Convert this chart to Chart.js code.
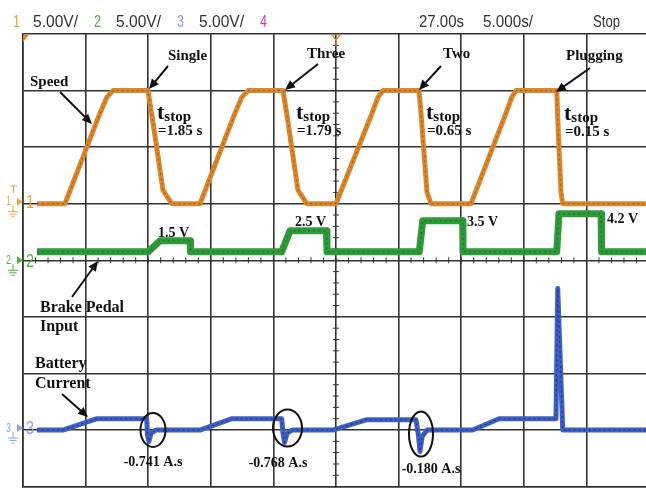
<!DOCTYPE html>
<html>
<head>
<meta charset="utf-8">
<script src="https://cdn.jsdelivr.net/npm/chart.js@4.4.1/dist/chart.umd.min.js"></script>
<style>
  html, body { margin: 0; padding: 0; background: #fff; overflow: hidden; }
  #wrap { width: 646px; height: 488px; }
</style>
</head>
<body>
<div id="wrap"><canvas id="scope" width="646" height="488"></canvas></div>
<script>
// channel 1: motor speed (V), four accelerate / brake cycles
const speedTime  = [1.12, 3.35, 6.15, 6.69, 7.19, 9.98, 10.38, 11.18, 11.88, 14.14, 16.93, 17.47, 17.97, 20.77, 21.17, 21.96, 22.66, 25.0, 27.88, 28.35, 28.75, 31.63, 31.79, 32.27, 32.59, 35.78, 38.58, 39.03, 39.38, 42.63, 42.73, 42.97, 43.11, 49.76];
const speedVolts = [0, 0, 8.0, 9.4, 10, 10, 7.2, 1.2, 0, 0, 8.0, 9.4, 10, 10, 7.2, 1.2, 0, 0, 8.0, 9.4, 10, 10, 8.0, 1.0, 0, 0, 8.0, 9.4, 10, 10, 7.0, 1.0, 0, 0];

// channel 2: brake pedal input (V)
const pedalTime  = [1.12, 9.98, 10.94, 13.34, 13.38, 20.66, 21.33, 24.24, 24.28, 31.65, 31.93, 35.12, 35.14, 42.63, 42.81, 46.17, 46.21, 49.76];
const pedalVolts = [0.4, 0.4, 1.5, 1.5, 0.4, 0.4, 2.5, 2.5, 0.4, 0.4, 3.5, 3.5, 0.4, 0.4, 4.2, 4.2, 0.4, 0.4];

// channel 3: battery current probe (V)
const currentTime  = [1.12, 3.19, 5.91, 9.88, 9.94, 10.06, 10.22, 10.62, 14.14, 16.69, 20.66, 20.77, 20.89, 21.09, 21.49, 24.74, 27.40, 31.39, 31.59, 31.71, 31.87, 32.27, 35.92, 38.02, 42.57, 42.71, 43.11, 49.76];
const currentVolts = [0, 0, 1.0, 1.0, -0.4, -1.0, -0.3, 0, 0, 1.0, 1.0, -0.3, -1.1, -0.3, 0, 0, 0.9, 0.9, -0.5, -1.9, -0.6, 0, 0, 1.0, 1.0, 12.5, 0, 0];

// scope status line
const channelIds    = ['1', '2', '3', '4'];
const channelScales = ['5.00V/', '5.00V/', '5.00V/', ''];
const timebaseText  = ['27.00s', '5.000s/', 'Stop'];

const ORANGE = '#d9862c', GREEN = '#2f9a3a', BLUE = '#3e5fc3';
const GRID = '#333';
const SCOPE_FONT = '"Liberation Sans Narrow", "Liberation Sans", sans-serif';
const pts = (ts, vs) => ts.map((t, i) => ({ x: t, y: vs[i] }));

function arrow(ctx, x1, y1, x2, y2) {
  const a = Math.atan2(y2 - y1, x2 - x1), L = 10, W = 4.5;
  ctx.beginPath();
  ctx.moveTo(x1, y1);
  ctx.lineTo(x2 - Math.cos(a) * L * 0.8, y2 - Math.sin(a) * L * 0.8);
  ctx.stroke();
  ctx.beginPath();
  ctx.moveTo(x2, y2);
  ctx.lineTo(x2 - Math.cos(a) * L + Math.sin(a) * W, y2 - Math.sin(a) * L - Math.cos(a) * W);
  ctx.lineTo(x2 - Math.cos(a) * L - Math.sin(a) * W, y2 - Math.sin(a) * L + Math.cos(a) * W);
  ctx.closePath();
  ctx.fill();
}

function ground(ctx, x, y, color) {
  ctx.strokeStyle = color;
  ctx.lineWidth = 1;
  ctx.beginPath();
  ctx.moveTo(x, y); ctx.lineTo(x, y + 6);
  ctx.moveTo(x - 5, y + 6); ctx.lineTo(x + 5, y + 6);
  ctx.moveTo(x - 3.5, y + 8.5); ctx.lineTo(x + 3.5, y + 8.5);
  ctx.moveTo(x - 1.5, y + 11); ctx.lineTo(x + 1.5, y + 11);
  ctx.stroke();
}

function channelMark(ctx, id, y, color) {
  ctx.fillStyle = color;
  ctx.font = '13px ' + SCOPE_FONT;
  ctx.textBaseline = 'middle';
  ctx.textAlign = 'left';
  ctx.fillText(id, 6, y, 5);
  ctx.beginPath();
  ctx.moveTo(17, y - 4); ctx.lineTo(23, y); ctx.lineTo(17, y + 4);
  ctx.closePath(); ctx.fill();
  ctx.font = '19px ' + SCOPE_FONT;
  ctx.fillText(id, 26, y + 1, 8);
  ground(ctx, 13, y + 4, color);
}

function tstop(ctx, x, y, value) {
  ctx.textAlign = 'left';
  ctx.font = 'bold 22px "Liberation Serif", serif';
  ctx.fillText('t', x, y);
  const w = ctx.measureText('t').width;
  ctx.font = 'bold 15px "Liberation Serif", serif';
  ctx.fillText('stop', x + w, y + 2);
  ctx.fillText('=' + value + ' s', x + 1, y + 16);
}

const scopeDecor = {
  id: 'scopeDecor',
  beforeDatasetsDraw(chart) {
    // minor ticks along the centre graticule lines
    const { ctx, chartArea: a, scales: { x, y } } = chart;
    const cy = y.getPixelForValue(0), cx = x.getPixelForValue(25);
    const dx = (x.getPixelForValue(5) - x.getPixelForValue(0)) / 5;
    const dy = (y.getPixelForValue(0) - y.getPixelForValue(1)) / 5;
    ctx.save();
    ctx.strokeStyle = GRID;
    ctx.lineWidth = 1;
    ctx.beginPath();
    for (let px = a.left + dx; px < a.right; px += dx) { ctx.moveTo(px, cy - 3); ctx.lineTo(px, cy + 3); }
    for (let py = a.top + dy; py < a.bottom; py += dy) { ctx.moveTo(cx - 3, py); ctx.lineTo(cx + 3, py); }
    ctx.stroke();
    ctx.restore();
  },
  afterDraw(chart) {
    const { ctx, scales } = chart;
    ctx.save();

    // status line, squeezed to the narrow scope font widths
    ctx.textBaseline = 'alphabetic';
    ctx.textAlign = 'left';
    const idColors = ['#f0a232', '#4fb535', '#8ea2e2', '#d43c95'];
    const idX = [13, 94, 177, 260], scaleX = [33, 116, 199];
    ctx.font = '17px ' + SCOPE_FONT;
    channelIds.forEach((id, i) => {
      ctx.fillStyle = idColors[i];
      ctx.fillText(id, idX[i], 27, 7);
      if (channelScales[i]) {
        ctx.fillStyle = '#333';
        ctx.fillText(channelScales[i], scaleX[i], 27, 45);
      }
    });
    ctx.fillStyle = '#333';
    const tbX = [419, 483, 593], tbW = [45, 50, 27];
    timebaseText.forEach((s, i) => ctx.fillText(s, tbX[i], 27, tbW[i]));

    // position and trigger markers
    ctx.fillStyle = '#e0851f';
    ctx.beginPath();
    ctx.moveTo(23, 35); ctx.lineTo(29, 35); ctx.lineTo(23, 42);
    ctx.closePath(); ctx.fill();
    ctx.strokeStyle = '#e0851f';
    ctx.lineWidth = 1.2;
    const tx = scales.x.getPixelForValue(25);
    ctx.beginPath();
    ctx.moveTo(tx - 4, 35); ctx.lineTo(tx + 4, 35); ctx.lineTo(tx, 40); ctx.closePath();
    ctx.moveTo(tx, 40); ctx.lineTo(tx, 46);
    ctx.stroke();

    // channel ground markers
    channelMark(ctx, '1', scales.ySpeed.getPixelForValue(0) - 2, '#f0a232');
    ctx.strokeStyle = '#f0a232';
    ctx.beginPath();
    ctx.moveTo(10, 186); ctx.lineTo(17, 186); ctx.moveTo(13.5, 186); ctx.lineTo(13.5, 193);
    ctx.stroke();
    channelMark(ctx, '2', scales.y.getPixelForValue(0), '#4fb535');
    channelMark(ctx, '3', scales.yCurrent.getPixelForValue(0) - 2, '#8ea2e2');

    // annotations
    ctx.fillStyle = '#111';
    ctx.strokeStyle = '#111';
    ctx.lineWidth = 2;
    ctx.textBaseline = 'alphabetic';
    ctx.textAlign = 'left';
    ctx.font = 'bold 15px "Liberation Serif", serif';
    [['Speed', 30, 86], ['Single', 168, 60], ['Three', 307, 58], ['Two', 443, 58], ['Plugging', 566, 60]]
      .forEach(([s, px, py]) => ctx.fillText(s, px, py));
    arrow(ctx, 60, 92, 92, 124);
    arrow(ctx, 168, 66, 149, 89);
    arrow(ctx, 318, 64, 285, 90);
    arrow(ctx, 441, 66, 419, 90);
    arrow(ctx, 590, 68, 556, 92);

    tstop(ctx, 157, 119, '1.85');
    tstop(ctx, 296, 119, '1.79');
    tstop(ctx, 426, 119, '0.65');
    tstop(ctx, 564, 120, '0.15');

    ctx.font = 'bold 14px "Liberation Serif", serif';
    [['1.5 V', 158, 237], ['2.5 V', 295, 226], ['3.5 V', 467, 226], ['4.2 V', 607, 223]]
      .forEach(([s, px, py]) => ctx.fillText(s, px, py));

    ctx.font = 'bold 16px "Liberation Serif", serif';
    ctx.fillText('Brake Pedal', 40, 312);
    ctx.fillText('Input', 40, 331);
    ctx.fillText('Battery', 35, 368);
    ctx.fillText('Current', 35, 388);
    arrow(ctx, 72, 297, 98, 261);
    arrow(ctx, 62, 394, 88, 417);

    [[153, 430, 12.5, 17], [287.5, 428, 14.5, 18.5], [421, 434, 12, 22.5]].forEach(([ex, ey, rx, ry]) => {
      ctx.beginPath();
      ctx.ellipse(ex, ey, rx, ry, 0, 0, Math.PI * 2);
      ctx.stroke();
    });
    ctx.textAlign = 'center';
    ctx.font = 'bold 14px "Liberation Serif", serif';
    ctx.fillText('-0.741 A.s', 153, 466);
    ctx.fillText('-0.768 A.s', 278, 467);
    ctx.fillText('-0.180 A.s', 431, 473);
    ctx.restore();
  }
};

const gridOpts = { color: GRID, lineWidth: 1.6, drawTicks: false };
// thin dark dashes on top of each trace, like the scope's dot texture
const speckle = { borderWidth: 1, borderDash: [2, 3] };

new Chart(document.getElementById('scope').getContext('2d'), {
  type: 'line',
  data: {
    datasets: [
      { label: 'Speed texture', data: pts(speedTime, speedVolts), yAxisID: 'ySpeed', borderColor: 'rgba(70,35,0,0.45)', ...speckle },
      { label: 'Pedal texture', data: pts(pedalTime, pedalVolts), yAxisID: 'yPedal', borderColor: 'rgba(0,40,0,0.45)', ...speckle },
      { label: 'Current texture', data: pts(currentTime, currentVolts), yAxisID: 'yCurrent', borderColor: 'rgba(0,0,50,0.5)', ...speckle },
      { label: 'Speed', data: pts(speedTime, speedVolts), yAxisID: 'ySpeed', borderColor: ORANGE, borderWidth: 5 },
      { label: 'Brake Pedal Input', data: pts(pedalTime, pedalVolts), yAxisID: 'yPedal', borderColor: GREEN, borderWidth: 7 },
      { label: 'Battery Current', data: pts(currentTime, currentVolts), yAxisID: 'yCurrent', borderColor: BLUE, borderWidth: 5 }
    ]
  },
  options: {
    responsive: false,
    animation: false,
    layout: { padding: { left: 23, top: 34, right: 0, bottom: 1.4 } },
    elements: { point: { radius: 0 }, line: { tension: 0, borderJoinStyle: 'round' } },
    plugins: { legend: { display: false }, tooltip: { enabled: false } },
    scales: {
      x: {
        type: 'linear', min: 0, max: 49.76,
        ticks: { display: false, stepSize: 5 },
        grid: gridOpts,
        border: { color: GRID, width: 1.6 },
        afterBuildTicks: s => { s.ticks = s.ticks.filter(t => Math.abs(t.value / 5 - Math.round(t.value / 5)) < 1e-6); }
      },
      y: {
        min: -4, max: 4,
        ticks: { display: false, stepSize: 1 },
        grid: gridOpts,
        border: { color: GRID, width: 1.6 }
      },
      ySpeed:   { display: false, min: -25, max: 15 },
      yPedal:   { display: false, min: -23.06, max: 22.17 },
      yCurrent: { display: false, min: -5, max: 35 }
    }
  },
  plugins: [scopeDecor]
});
</script>
</body>
</html>
